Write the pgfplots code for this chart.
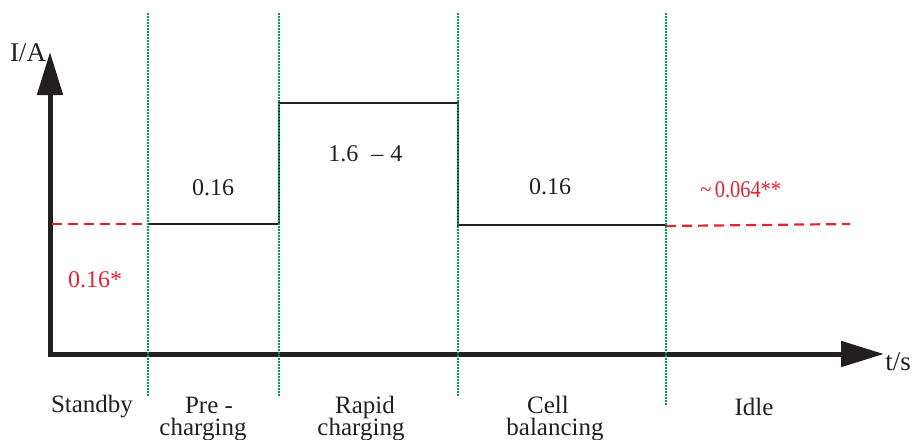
\documentclass[border=0pt]{standalone}
\usepackage{fontspec}
\setmainfont{Liberation Serif}
\usepackage{pgfplots}
\pgfplotsset{compat=1.18}
\usetikzlibrary{arrows.meta}
\definecolor{ink}{RGB}{35,31,32}
\definecolor{phasegreen}{RGB}{0,160,75}
\definecolor{lvlred}{RGB}{225,35,50}
\newcommand\lab{\rmfamily\fontsize{12.5}{12}\selectfont}
\newcommand\num{\rmfamily\fontsize{12}{12}\selectfont}
\newcommand\axlab{\rmfamily\fontsize{13.5}{13}\selectfont}
\begin{document}
\begin{tikzpicture}
\begin{axis}[
    scale only axis,
    width=457.5pt, height=219.5pt,
    xmin=0, xmax=915, ymin=0, ymax=439,
    y dir=reverse,
    hide axis,
    clip=false,
]
% axes with arrows
\addplot[ink, line width=2.5pt, line join=miter,
    {Triangle[length=21.5pt,width=12.5pt]}-{Triangle[length=21.5pt,width=12.5pt]}]
    coordinates {(50,52) (50,354) (884,354)};
% current profile
\addplot[ink, line width=1.1pt] coordinates {
    (148,224) (279,224) (279,103) (458,103) (458,225) (666,225)
};
% standby / idle levels
\addplot[lvlred, line width=1.1pt, dash pattern=on 5pt off 3pt] coordinates {(52,224) (148,224)};
\addplot[lvlred, line width=1.1pt, dash pattern=on 5pt off 3pt] coordinates {(666,226) (850,224)};
% phase borders
\addplot[phasegreen, line width=1.2pt, dash pattern=on 0.75pt off 0.75pt] coordinates {(148,13) (148,397)};
\addplot[phasegreen, line width=1.2pt, dash pattern=on 0.75pt off 0.75pt] coordinates {(279,13) (279,397)};
\addplot[phasegreen, line width=1.2pt, dash pattern=on 0.75pt off 0.75pt] coordinates {(458,13) (458,397)};
\addplot[phasegreen, line width=1.2pt, dash pattern=on 0.75pt off 0.75pt] coordinates {(666,13) (666,405)};

% values
\node[anchor=base, inner sep=0, text=ink, font=\num] at (axis cs:213,195) {0.16};
\node[anchor=base west, inner sep=0, text=ink, font=\num] at (axis cs:328,161) {1.6\hspace{6.5pt}--\hspace{3.5pt}4};
\node[anchor=base, inner sep=0, text=ink, font=\num] at (axis cs:550,194) {0.16};
\node[anchor=base, inner sep=0, text=lvlred, font=\num] at (axis cs:95,287) {0.16*};
\node[anchor=base west, inner sep=0, text=lvlred, font=\num] at (axis cs:700,197) {\scalebox{0.85}[1]{\textasciitilde\,0.064**}};

% axis labels
\node[anchor=base, inner sep=0, text=ink, font=\axlab] at (axis cs:28,61) {I/A};
\node[anchor=base west, inner sep=0, text=ink, font=\axlab] at (axis cs:885,370) {t/s};

% phase names
\node[anchor=base, inner sep=0, text=ink, font=\lab] at (axis cs:92,412) {Standby};
\node[anchor=base, inner sep=0, text=ink, font=\lab] at (axis cs:209,413) {Pre -};
\node[anchor=base, inner sep=0, text=ink, font=\lab] at (axis cs:203,435) {charging};
\node[anchor=base, inner sep=0, text=ink, font=\lab] at (axis cs:365,413) {Rapid};
\node[anchor=base, inner sep=0, text=ink, font=\lab] at (axis cs:361,435) {charging};
\node[anchor=base, inner sep=0, text=ink, font=\lab] at (axis cs:548,413) {Cell};
\node[anchor=base, inner sep=0, text=ink, font=\lab] at (axis cs:555,435) {balancing};
\node[anchor=base, inner sep=0, text=ink, font=\lab] at (axis cs:754,415) {Idle};
\end{axis}
\pgfresetboundingbox
\useasboundingbox (0,0) rectangle (457.5pt,219.5pt);
\end{tikzpicture}
\end{document}
